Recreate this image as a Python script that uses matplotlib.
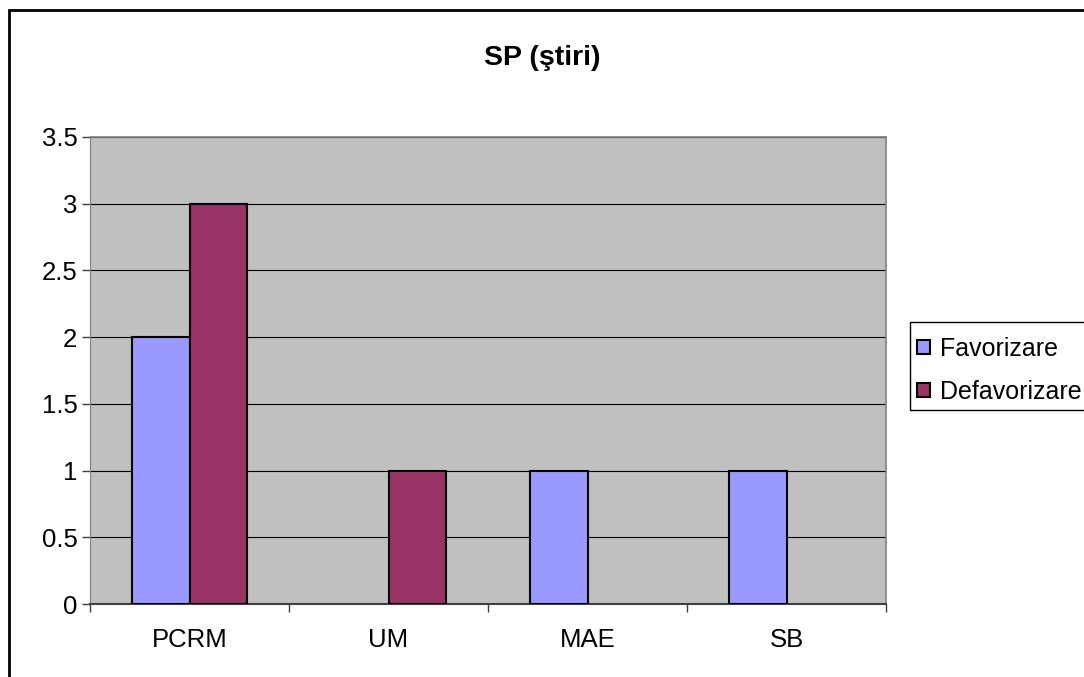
import matplotlib
matplotlib.use("Agg")
import matplotlib.pyplot as plt
import numpy as np
from matplotlib.patches import Rectangle

plt.rcParams['font.family'] = ['Liberation Sans', 'DejaVu Sans']

categories = ["PCRM", "UM", "MAE", "SB"]
favorizare = [2, 0, 1, 1]
defavorizare = [3, 1, 0, 0]
yticks = [0, 0.5, 1, 1.5, 2, 2.5, 3, 3.5]

W, H = 1084, 677
fig = plt.figure(figsize=(W / 100, H / 100), dpi=100)

# outer chart border
fig.patches.append(Rectangle((9 / W, -0.01), 1.02 - 9 / W, 1 - 10 / H + 0.01,
                             transform=fig.transFigure, fill=False,
                             edgecolor='black', linewidth=2, zorder=0))

ax = fig.add_axes([90 / W, 1 - 604 / H, 796 / W, (604 - 137) / H])
ax.set_facecolor('#C0C0C0')

x = np.arange(len(categories))
bw = 0.29
b1 = ax.bar(x - bw / 2, favorizare, bw, color='#9999FF', edgecolor='black',
            linewidth=1.5, label='Favorizare', zorder=3)
b2 = ax.bar(x + bw / 2, defavorizare, bw, color='#993366', edgecolor='black',
            linewidth=1.5, label='Defavorizare', zorder=3)
for bars in (b1, b2):
    for p in bars.patches:
        if p.get_height() == 0:
            p.set_visible(False)

ax.set_xlim(-0.5, len(categories) - 0.5)
ax.set_ylim(0, 3.5)
ax.set_yticks(yticks)
ax.set_yticklabels(['0', '0.5', '1', '1.5', '2', '2.5', '3', '3.5'])
ax.set_xticks(np.arange(-0.5, len(categories), 1.0), minor=False)
ax.set_xticklabels([])
ax.set_xticks(x, minor=True)
ax.set_xticklabels(categories, minor=True)
ax.tick_params(axis='x', which='minor', length=0, pad=17, labelsize=18.5)
ax.tick_params(axis='x', which='major', length=6, direction='out', width=1, color='#404040')
ax.tick_params(axis='y', length=6, direction='out', width=1, labelsize=18.5, pad=3, color='#404040')

ax.yaxis.grid(True, color='black', linewidth=0.8, zorder=1)
ax.set_axisbelow(True)
for s in ['top', 'right']:
    ax.spines[s].set_color('#808080')
    ax.spines[s].set_linewidth(1.2)
ax.spines['left'].set_color('#808080')
ax.spines['bottom'].set_color('#404040')
ax.spines['bottom'].set_linewidth(1.5)

fig.text(542 / W, 1 - 58 / H, 'SP (ştiri)', ha='center', va='center',
         fontsize=20.5, fontweight='bold')

# legend frame drawn separately
fig.patches.append(Rectangle((910 / W, 1 - 410 / H), 200 / W, 88 / H,
                             transform=fig.transFigure, fill=False,
                             edgecolor='black', linewidth=1, zorder=2))
leg = fig.legend(loc='upper left', bbox_to_anchor=(917 / W, 1 - 337 / H),
                 frameon=False, fontsize=18,
                 handlelength=0.5, handleheight=0.5, handletextpad=0.42,
                 borderpad=0, labelspacing=0.75, borderaxespad=0)

fig.savefig('out.png', dpi=100)
